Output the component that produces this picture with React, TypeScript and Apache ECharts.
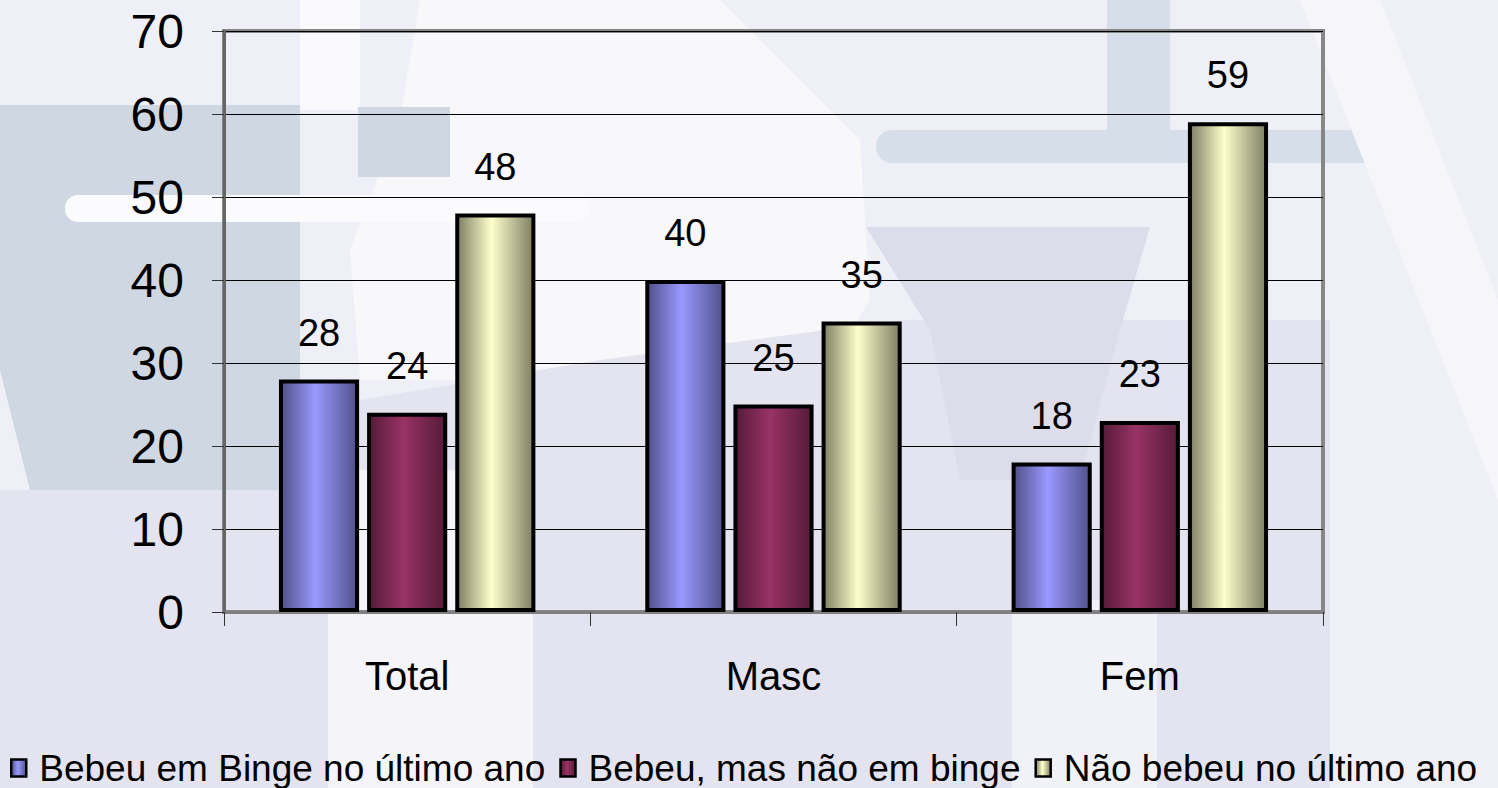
import React, { useEffect, useRef } from "react";
import * as echarts from "echarts";

const categories = ["Total", "Masc", "Fem"];
const seriesNames = [
  "Bebeu em Binge no último ano",
  "Bebeu, mas não em binge",
  "Não bebeu no último ano",
];
const bingeValues = [28, 40, 18];
const drankNoBingeValues = [24, 25, 23];
const didNotDrinkValues = [48, 35, 59];
const yTicks = { min: 0, max: 70, interval: 10 };

const FONT = "'Liberation Sans', Arial, sans-serif";

function grad(dark: string, light: string) {
  return new echarts.graphic.LinearGradient(0, 0, 1, 0, [
    { offset: 0, color: dark },
    { offset: 0.45, color: light },
    { offset: 1, color: dark },
  ]);
}

const bgElements: any[] = [
  { type: "rect", shape: { x: 0, y: 0, width: 1498, height: 788 }, style: { fill: "#EFEFF7" } },
  // upper white chair back
  { type: "polygon", shape: { points: [[420, 0], [720, 0], [860, 140], [870, 300], [820, 380], [360, 380], [350, 250], [400, 120]] }, style: { fill: "#F8F8FB" } },
  { type: "rect", shape: { x: 300, y: 0, width: 60, height: 110 }, style: { fill: "#F9F9FC" } },
  // lower lavender
  { type: "polygon", shape: { points: [[0, 490], [340, 490], [360, 400], [600, 360], [900, 320], [1330, 320], [1330, 788], [0, 788]] }, style: { fill: "#E4E3F0" } },
  // white vertical bands in the lower area
  { type: "rect", shape: { x: 328, y: 470, width: 205, height: 318 }, style: { fill: "#F4F4F9" } },
  { type: "rect", shape: { x: 1012, y: 600, width: 145, height: 188 }, style: { fill: "#F1F1F8" } },
  // centre-right darker trapezoid
  { type: "polygon", shape: { points: [[866, 227], [1150, 227], [1120, 330], [1080, 480], [960, 480], [930, 330]] }, style: { fill: "#DCDCEB" } },
  // left gray-blue block
  { type: "polygon", shape: { points: [[0, 105], [300, 105], [300, 490], [30, 490], [0, 370]] }, style: { fill: "#CFD7E2" } },
  { type: "rect", shape: { x: 358, y: 107, width: 92, height: 70 }, style: { fill: "#CFD7E2" } },
  { type: "rect", shape: { x: 65, y: 195, width: 525, height: 27, r: 13 }, style: { fill: "#FBFBFD" } },
  // right light-blue shelf and post
  { type: "rect", shape: { x: 1107, y: 0, width: 63, height: 140 }, style: { fill: "#D6DEEA" } },
  { type: "rect", shape: { x: 876, y: 130, width: 518, height: 33, r: 16 }, style: { fill: "#D6DEEA" } },
  // right white diagonal
  { type: "polygon", shape: { points: [[1300, 0], [1380, 0], [1498, 300], [1498, 500]] }, style: { fill: "#F6F6FA" } },
].map((e) => ({ ...e, z: -100, silent: true }));

export default function App() {
  const ref = useRef<HTMLDivElement>(null);
  useEffect(() => {
    if (!ref.current) return;
    const chart = echarts.init(ref.current, undefined, { renderer: "svg" });
    const mk = (name: string, data: number[], dark: string, light: string) => ({
      name,
      type: "bar",
      data,
      barGap: "10%",
      barCategoryGap: "30%",
      itemStyle: { color: grad(dark, light), borderColor: "#000", borderWidth: 4 },
      label: {
        show: true,
        position: "top",
        distance: 28,
        fontSize: 38,
        fontFamily: FONT,
        color: "#000",
      },
    });
    chart.setOption({
      animation: false,
      graphic: { elements: bgElements },
      textStyle: { fontFamily: FONT },
      grid: {
        left: 224,
        right: 175,
        top: 31,
        bottom: 176,
        show: true,
        backgroundColor: "transparent",
        borderColor: "#878787",
        borderWidth: 4,
      },
      legend: {
        top: 748,
        left: 10,
        icon: "rect",
        itemWidth: 15,
        itemHeight: 17,
        itemGap: 14,
        padding: 0,
        textStyle: {
          fontSize: 37,
          lineHeight: 40,
          fontFamily: FONT,
          color: "#000",
          padding: [0, 0, 0, 8],
        },
        itemStyle: { borderWidth: 2.5, borderColor: "#000" },
        data: seriesNames,
      },
      xAxis: {
        type: "category",
        data: categories,
        axisLine: { lineStyle: { color: "#808080", width: 3 } },
        axisTick: { show: true, length: 14, lineStyle: { color: "#333", width: 1 } },
        axisLabel: { fontSize: 40, fontFamily: FONT, color: "#000", margin: 44 },
      },
      yAxis: {
        type: "value",
        min: yTicks.min,
        max: yTicks.max,
        interval: yTicks.interval,
        axisLine: { show: true, lineStyle: { color: "#666", width: 3 } },
        axisTick: { show: true, length: 12, lineStyle: { color: "#333", width: 1 } },
        axisLabel: { fontSize: 48, fontFamily: FONT, color: "#000", margin: 40 },
        splitLine: { lineStyle: { color: "#000", width: 1 } },
      },
      series: [
        mk(seriesNames[0], bingeValues, "#50508A", "#9999FF"),
        mk(seriesNames[1], drankNoBingeValues, "#551B38", "#993366"),
        mk(seriesNames[2], didNotDrinkValues, "#7E7E64", "#FFFFCC"),
      ],
    });
    return () => chart.dispose();
  }, []);
  return <div ref={ref} style={{ width: 1498, height: 788, position: "absolute", left: 0, top: 0 }} />;
}
